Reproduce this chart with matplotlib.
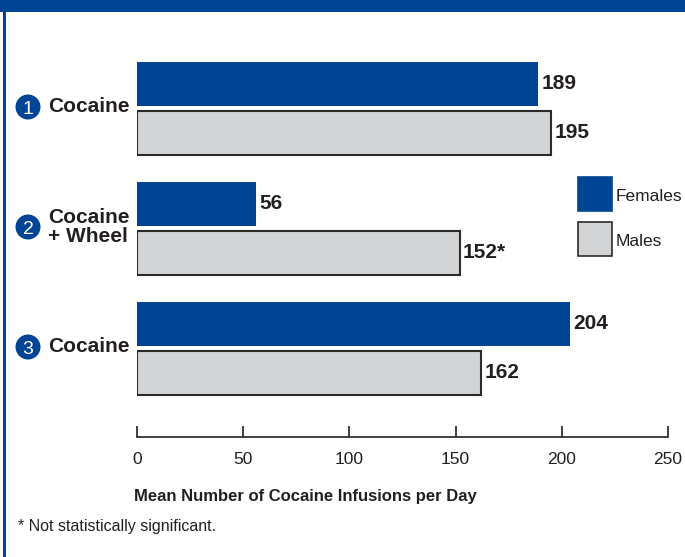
import matplotlib
matplotlib.use("Agg")
import matplotlib.pyplot as plt
from matplotlib.patches import Rectangle, Ellipse
import numpy as np

plt.rcParams['font.family'] = ['Liberation Sans', 'DejaVu Sans']

# ---------------------------------------------------------------- data
groups = ["Cocaine", "Cocaine\n+ Wheel", "Cocaine"]
group_nums = ["1", "2", "3"]
females = [189, 56, 204]
males = [195, 152, 162]
male_labels = ["195", "152*", "162"]
female_labels = ["189", "56", "204"]
xticks = [0, 50, 100, 150, 200, 250]

BLUE = "#004593"
GREY = "#d3d4d6"
EDGE = "#2b2b2b"
TXT = "#231f20"

W, H = 685, 557
fig = plt.figure(figsize=(W / 100, H / 100), dpi=100)

# frame: top band and left rule
fig.add_artist(Rectangle((0, 1 - 12 / H), 1, 12 / H, transform=fig.transFigure,
                         color=BLUE, lw=0))
fig.add_artist(Rectangle((3 / W, 0), 2.5 / W, 1 - 12 / H, transform=fig.transFigure,
                         color=BLUE, lw=0))

ax_l, ax_r, ax_b, ax_t = 137, 668, 437, 40
ax = fig.add_axes([ax_l / W, 1 - ax_b / H, (ax_r - ax_l) / W, (ax_b - ax_t) / H])

y = np.arange(len(groups))
bh = 44 / 120
off = 24.5 / 120
ax.barh(y - off, females, height=bh, color=BLUE, lw=0)
ax.barh(y + off, males, height=bh, color=GREY, edgecolor=EDGE, lw=1.5)

for yi, v, s in zip(y, females, female_labels):
    ax.text(v + 1.5, yi - off, s, va="center", ha="left", fontsize=15,
            fontweight="bold", color=TXT)
for yi, v, s in zip(y, males, male_labels):
    ax.text(v + 1.5, yi + off, s, va="center", ha="left", fontsize=15,
            fontweight="bold", color=TXT)

ax.set_xlim(0, 250)
ax.set_ylim(2 + 89 / 120, -68 / 120)
ax.set_yticks([])
ax.set_xticks(xticks)
ax.tick_params(axis="x", direction="in", length=8, width=1.2, colors=TXT,
               labelsize=12.5, pad=11)
for sp in ("top", "right", "left"):
    ax.spines[sp].set_visible(False)
ax.spines["bottom"].set_linewidth(1.2)
ax.spines["bottom"].set_color(TXT)
ax.patch.set_alpha(0)

# group labels with numbered circles
for yi, g, n in zip(y, groups, group_nums):
    yp = 1 - (107 + 120 * yi) / H
    fig.add_artist(Ellipse((28 / W, yp), 25 / W, 25 / H, transform=fig.transFigure,
                           color=BLUE, lw=0))
    fig.text(28 / W, yp, n, ha="center", va="center_baseline",
             color="white", fontsize=14)
    fig.text(48 / W, yp, g, ha="left", va="center", fontsize=15,
             fontweight="bold", color=TXT, linespacing=0.95)

# legend
for yy, col, ec, lab in [(177, BLUE, BLUE, "Females"), (222, GREY, EDGE, "Males")]:
    fig.add_artist(Rectangle((578 / W, 1 - (yy + 34) / H), 34 / W, 34 / H,
                             transform=fig.transFigure, facecolor=col,
                             edgecolor=ec, lw=1.2))
    fig.text(616 / W, 1 - (yy + 19) / H, lab, ha="left", va="center",
             fontsize=12.5, color=TXT)

fig.text(305 / W, 1 - 496 / H, "Mean Number of Cocaine Infusions per Day",
         ha="center", va="center", fontsize=12, fontweight="bold", color=TXT)
fig.text(18 / W, 1 - 527 / H, "* Not statistically significant.",
         ha="left", va="center", fontsize=11.5, color=TXT)

fig.savefig("out.png", dpi=100)
